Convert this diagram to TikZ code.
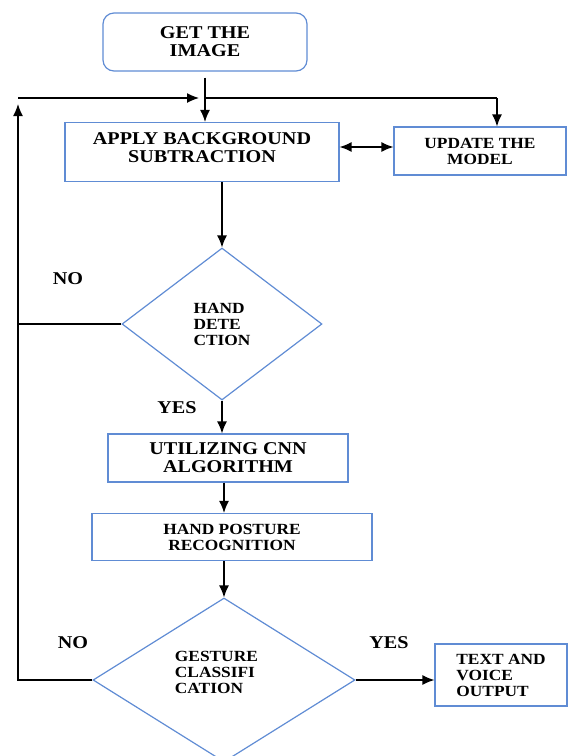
\documentclass[tikz,border=0pt]{standalone}
\usepackage{fontspec}
\setmainfont[FakeStretch=1.12,BoldFont={Liberation Serif Bold}]{Liberation Serif}
\usepackage{tikz}
\usetikzlibrary{shapes.geometric,arrows.meta}
\definecolor{boxblue}{RGB}{96,140,212}

\begin{document}
\begin{tikzpicture}[x=1pt, y=-1pt,
    bigtxt/.style={font=\fontsize{18}{18}\selectfont\bfseries},
    smalltxt/.style={font=\fontsize{15.5}{16}\selectfont\bfseries},
    flowbox/.style={draw=boxblue, line width=1.2pt, rectangle, inner sep=0pt, align=center},
    decide/.style={draw=boxblue, line width=1.2pt, diamond, inner sep=0pt, align=left, smalltxt},
    flowline/.style={line width=1.3pt},
    arr/.style={flowline, -{Latex[length=12pt,width=10pt]}}]
      \useasboundingbox (0, 0) rectangle (568, 756);
      \clip (0, 0) rectangle (568, 756);

      \node [flowbox, bigtxt, rounded corners=11pt, minimum width=204pt, minimum height=58pt] (get) at (205, 42) {GET THE\\IMAGE};
      \node [flowbox, bigtxt, minimum width=274pt, minimum height=59pt, text depth=9pt] (apply) at (202, 152) {APPLY BACKGROUND\\SUBTRACTION};
      \node [flowbox, smalltxt, minimum width=172pt, minimum height=48pt] (update) at (480, 151) {UPDATE THE\\MODEL};
      \node [decide, minimum width=200pt, minimum height=152pt] (handdet) at (222, 324) {HAND\\DETE\\CTION};
      \node [flowbox, bigtxt, minimum width=240pt, minimum height=48pt] (cnn) at (228, 458) {UTILIZING CNN\\ALGORITHM};
      \node [flowbox, smalltxt, minimum width=280pt, minimum height=47pt] (posture) at (232, 537) {HAND POSTURE\\RECOGNITION};
      \node [decide, minimum width=262pt, minimum height=164pt, text depth=16pt] (gesture) at (224, 680) {GESTURE\\CLASSIFI\\CATION\hspace*{30pt}};
      \node [flowbox, smalltxt, align=left, minimum width=132pt, minimum height=62pt] (output) at (501, 675) {TEXT AND\\VOICE\\OUTPUT};

      \node [bigtxt] (no1) at (68, 279) {NO};
      \node [bigtxt] (yes1) at (177, 408) {YES};
      \node [bigtxt] (no2) at (73, 643) {NO};
      \node [bigtxt] (yes2) at (389, 643) {YES};

      \coordinate (loop) at (18, 98);
      \coordinate (join) at (205, 98);
      \coordinate (split) at (497, 98);

      \draw [arr, shorten <=6pt] (get.south) -- (get.south |- apply.north);
      \draw [arr, shorten >=6pt] (gesture.west) -| (loop);
      \draw [arr, shorten >=6pt] (loop) -- (join);
      \draw [flowline] (join) -- (split);
      \draw [arr] (split) -- (split |- update.north);
      \draw [flowline, {Latex[length=12pt,width=10pt]}-{Latex[length=12pt,width=10pt]}] (apply.east |- 0,147) -- (update.west |- 0,147);
      \draw [arr] (handdet.north |- apply.south) -- (handdet.north);
      \draw [flowline] (handdet.west) -- (handdet.west -| loop);
      \draw [arr] (handdet.south) -- (handdet.south |- cnn.north);
      \draw [arr] (gesture.north |- cnn.south) -- (gesture.north |- posture.north);
      \draw [arr] (posture.south -| gesture.north) -- (gesture.north);
      \draw [arr] (gesture.east) -- (gesture.east -| output.west);
    \end{tikzpicture}
\end{document}
